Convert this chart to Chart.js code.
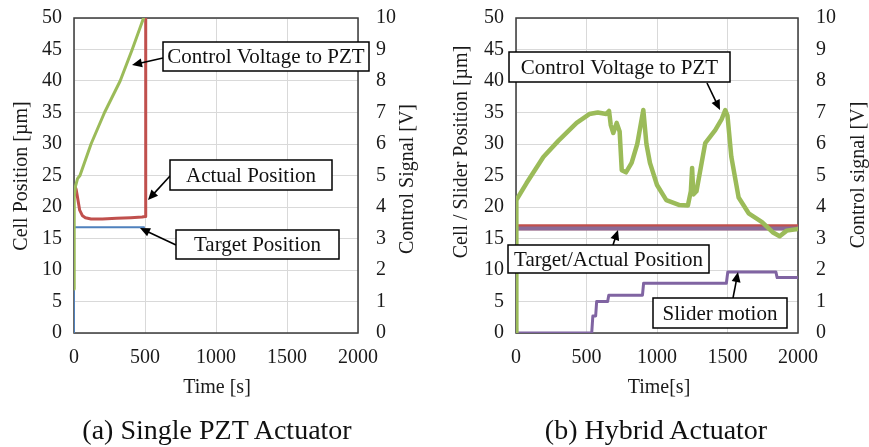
<!DOCTYPE html>
<html><head><meta charset="utf-8">
<script src="https://cdn.jsdelivr.net/npm/chart.js@4.4.1/dist/chart.umd.min.js"></script>
<style>
html,body{margin:0;padding:0;background:#fff;width:869px;height:447px;overflow:hidden;position:relative;}
canvas{position:absolute;left:0;top:-12px;}
.cap{position:absolute;font-family:'Liberation Serif',serif;font-size:28px;color:#111;white-space:nowrap;transform:translateX(-50%);line-height:30px;}
</style></head><body>
<canvas id="ca" width="869" height="459"></canvas>
<canvas id="cb" width="869" height="459"></canvas>
<div class="cap" style="left:217px;top:415px">(a) Single PZT Actuator</div>
<div class="cap" style="left:656px;top:415px">(b) Hybrid Actuator</div>
<script>
// ---------- data ----------
// (a) Single PZT actuator
const timeA_target = [0, 0, 493];
const posA_target  = [0, 16.8, 16.8];
const timeA_actual = [0, 8, 15, 25, 40, 60, 80, 120, 200, 300, 400, 480, 500, 505];
const posA_actual  = [22.5, 23.2, 22.8, 21.5, 19.5, 18.6, 18.3, 18.1, 18.1, 18.2, 18.3, 18.4, 18.5, 50];
const timeA_volt   = [0, 0, 3, 10, 25, 42, 120, 215, 325, 410, 490];
const voltA        = [1.4, 3.6, 4.3, 4.65, 4.9, 5.0, 6.0, 7.0, 8.0, 9.0, 10.0];
// (b) Hybrid actuator
const timeB_pos    = [0, 2000];
const posB_actual  = [16.8, 16.8];
const posB_target  = [16.6, 16.6];
const timeB_slider = [0, 4, 537, 545, 565, 572, 650, 658, 897, 905, 1492, 1502, 1843, 1852, 2000];
const posB_slider  = [0.8, 0, 0, 2.7, 2.7, 5.0, 5.0, 6.0, 6.0, 7.9, 7.9, 9.7, 9.7, 8.8, 8.8];
const timeB_volt   = [0, 0, 5, 75, 194, 300, 430, 520, 580, 640, 660, 672, 690, 714, 735, 750, 780, 820, 860, 903, 925, 950, 1000, 1066, 1160, 1219, 1240, 1249, 1258, 1280, 1342, 1413, 1460, 1484, 1500, 1527, 1579, 1650, 1745, 1820, 1870, 1920, 2000];
const voltB        = [0, 4.0, 4.22, 4.76, 5.59, 6.1, 6.67, 6.95, 7.0, 6.95, 7.05, 6.6, 6.35, 6.67, 6.4, 5.17, 5.1, 5.4, 6.0, 7.08, 6.0, 5.4, 4.7, 4.22, 4.06, 4.05, 4.5, 5.24, 4.4, 4.5, 6.03, 6.44, 6.8, 7.08, 6.9, 5.6, 4.3, 3.8, 3.52, 3.2, 3.07, 3.25, 3.3];
// axis ranges / ticks
const timeRange = [0, 2000], timeStep = 500;
const posRange  = [0, 50],   posStep  = 5;
const voltRange = [0, 10],   voltStep = 1;

const pts = (xs, ys) => xs.map((x, i) => ({x, y: ys[i]}));
const FONT = "'Liberation Serif', 'Times New Roman', serif";
Chart.defaults.font.family = FONT;
const OFF = 12; // canvas is shifted up by this many pixels

const GREEN = '#9bbb59', RED = '#c0504d', BLUE = '#4f81bd', PURPLE = '#8064a2', MAUVE = '#8a6b98';

const framePlugin = {
  id: 'frame',
  beforeDatasetsDraw(chart) {
    const {ctx, chartArea: a} = chart;
    ctx.save();
    ctx.strokeStyle = '#3a3a3a'; ctx.lineWidth = 1.5;
    ctx.strokeRect(a.left, a.top, a.right - a.left, a.bottom - a.top);
    ctx.restore();
  }
};

const notesPlugin = {
  id: 'notes',
  afterDraw(chart, args, o) {
    const ctx = chart.ctx;
    ctx.save();
    ctx.translate(0, OFF);
    (o.titles || []).forEach(t => {
      ctx.save();
      ctx.translate(t.x, t.y); ctx.rotate(t.rot || 0);
      ctx.font = '20px ' + FONT; ctx.fillStyle = '#1a1a1a';
      ctx.textAlign = 'center'; ctx.textBaseline = 'middle';
      ctx.fillText(t.text, 0, 0);
      ctx.restore();
    });
    (o.arrows || []).forEach(a => {
      const [x1, y1, x2, y2] = a;
      const ang = Math.atan2(y2 - y1, x2 - x1), L = 10, W = 4.5;
      ctx.strokeStyle = '#000'; ctx.fillStyle = '#000'; ctx.lineWidth = 1.6;
      ctx.beginPath(); ctx.moveTo(x1, y1);
      ctx.lineTo(x2 - Math.cos(ang) * L * 0.8, y2 - Math.sin(ang) * L * 0.8); ctx.stroke();
      ctx.beginPath(); ctx.moveTo(x2, y2);
      ctx.lineTo(x2 - Math.cos(ang) * L - Math.sin(ang) * W, y2 - Math.sin(ang) * L + Math.cos(ang) * W);
      ctx.lineTo(x2 - Math.cos(ang) * L + Math.sin(ang) * W, y2 - Math.sin(ang) * L - Math.cos(ang) * W);
      ctx.closePath(); ctx.fill();
    });
    (o.boxes || []).forEach(b => {
      ctx.fillStyle = '#fff'; ctx.fillRect(b.x, b.y, b.w, b.h);
      ctx.strokeStyle = '#000'; ctx.lineWidth = 1.5; ctx.strokeRect(b.x, b.y, b.w, b.h);
      ctx.font = '21px ' + FONT; ctx.fillStyle = '#111';
      ctx.textAlign = 'center'; ctx.textBaseline = 'middle';
      ctx.fillText(b.text, b.x + b.w / 2, b.y + b.h / 2 + 1);
    });
    ctx.restore();
  }
};

function makeChart(id, datasets, area, notes) {
  const W = 869, H = 447 + OFF;
  const tickFont = {size: 20, family: FONT};
  return new Chart(document.getElementById(id), {
    type: 'line',
    data: {datasets},
    options: {
      responsive: false, animation: false, devicePixelRatio: 1,
      layout: {autoPadding: false, padding: {top: area.top + OFF - 12, left: 0, right: 0, bottom: 0}},
      plugins: {legend: {display: false}, tooltip: {enabled: false}, notes},
      elements: {point: {radius: 0}, line: {tension: 0, borderJoinStyle: 'round', borderCapStyle: 'round'}},
      scales: {
        x: {
          type: 'linear', min: timeRange[0], max: timeRange[1],
          afterFit: s => { s.height = H - (area.bottom + OFF); },
          ticks: {stepSize: timeStep, autoSkip: false, maxRotation: 0, padding: 13, color: '#1a1a1a', font: tickFont, callback: v => String(v)},
          grid: {color: '#d9d9d9', lineWidth: 1, drawTicks: false},
          border: {display: false}
        },
        y: {
          position: 'left', min: posRange[0], max: posRange[1],
          afterFit: s => { s.width = area.left; },
          ticks: {stepSize: posStep, padding: 12, color: '#1a1a1a', font: tickFont, callback: v => String(v)},
          grid: {color: '#d9d9d9', lineWidth: 1, drawTicks: false},
          border: {display: false}
        },
        y2: {
          position: 'right', min: voltRange[0], max: voltRange[1],
          afterFit: s => { s.width = W - area.right; },
          ticks: {stepSize: voltStep, padding: 18, color: '#1a1a1a', font: tickFont, callback: v => String(v)},
          grid: {display: false, drawTicks: false},
          border: {display: false}
        }
      }
    },
    plugins: [framePlugin, notesPlugin]
  });
}

makeChart('ca', [
  {data: pts(timeA_volt, voltA), yAxisID: 'y2', borderColor: GREEN, borderWidth: 3},
  {data: pts(timeA_actual, posA_actual), yAxisID: 'y', borderColor: RED, borderWidth: 3},
  {data: pts(timeA_target, posA_target), yAxisID: 'y', borderColor: BLUE, borderWidth: 2}
], {left: 74, right: 358, top: 18, bottom: 333}, {
  titles: [
    {text: 'Cell Position [µm]', x: 22, y: 176, rot: -Math.PI / 2},
    {text: 'Control Signal [V]', x: 408, y: 179, rot: -Math.PI / 2},
    {text: 'Time [s]', x: 217, y: 388}
  ],
  arrows: [[163, 58, 132, 65], [170, 176, 148, 200], [176, 245, 140, 228]],
  boxes: [
    {text: 'Control Voltage to PZT', x: 163, y: 42, w: 206, h: 29},
    {text: 'Actual Position', x: 170, y: 160, w: 162, h: 30},
    {text: 'Target Position', x: 176, y: 230, w: 163, h: 29}
  ]
});

makeChart('cb', [
  {data: pts(timeB_volt, voltB), yAxisID: 'y2', borderColor: GREEN, borderWidth: 4.5},
  {data: pts(timeB_pos, posB_target), yAxisID: 'y', borderColor: MAUVE, borderWidth: 4},
  {data: pts(timeB_pos, posB_actual), yAxisID: 'y', borderColor: RED, borderWidth: 6},
  {data: pts(timeB_slider, posB_slider), yAxisID: 'y', borderColor: PURPLE, borderWidth: 3}
], {left: 516, right: 798, top: 18, bottom: 333}, {
  titles: [
    {text: 'Cell / Slider Position [µm]', x: 462, y: 152, rot: -Math.PI / 2},
    {text: 'Control signal [V]', x: 859, y: 175, rot: -Math.PI / 2},
    {text: 'Time[s]', x: 659, y: 388}
  ],
  arrows: [[707, 83, 720, 110], [613, 245, 618, 230], [733, 298, 738, 272]],
  boxes: [
    {text: 'Control Voltage to PZT', x: 509, y: 52, w: 221, h: 30},
    {text: 'Target/Actual Position', x: 508, y: 245, w: 201, h: 28},
    {text: 'Slider motion', x: 653, y: 298, w: 134, h: 30}
  ]
});
</script>
</body></html>
